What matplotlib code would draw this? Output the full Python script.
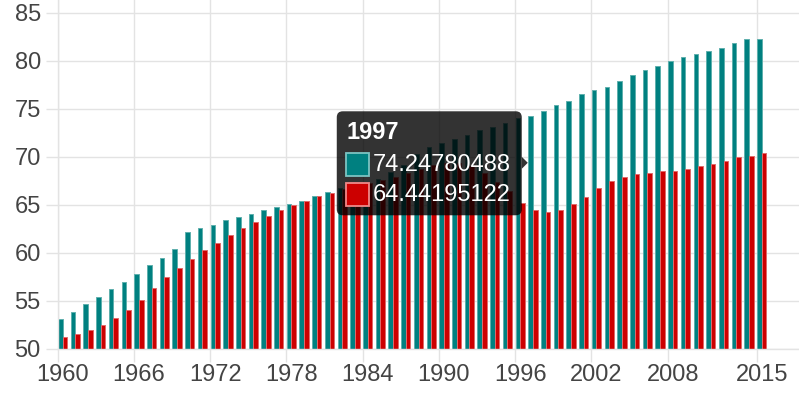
import matplotlib
matplotlib.use("Agg")
import matplotlib.pyplot as plt
from matplotlib.patches import FancyBboxPatch, Rectangle, Polygon
from matplotlib.transforms import IdentityTransform

plt.rcParams["font.family"] = ["Liberation Sans", "DejaVu Sans"]

# --- data ---
years = list(range(1960, 2016))
teal_vals = [53.04, 53.81, 54.61, 55.37, 56.17, 56.93, 57.73, 58.67, 59.44, 60.38,
             62.11, 62.56, 62.88, 63.36, 63.68, 63.99, 64.44, 64.76, 65.07, 65.38,
             65.87, 66.32, 66.7, 67.0, 67.35, 67.7, 68.4, 69.1, 70.3, 71.0,
             71.37, 71.79, 72.24, 72.76, 73.04, 73.52, 73.97, 74.24780488, 74.72, 75.35,
             75.83, 76.46, 76.91, 77.22, 77.85, 78.47, 78.96, 79.41, 79.90, 80.35,
             80.66, 80.97, 81.28, 81.81, 82.22, 82.22]
red_vals = [51.16, 51.48, 51.93, 52.42, 53.18, 53.98, 55.06, 56.31, 57.42, 58.36,
            59.30, 60.24, 61.01, 61.80, 62.56, 63.19, 63.82, 64.44, 64.93, 65.38,
            65.87, 66.18, 66.6, 66.9, 67.2, 67.55, 67.9, 68.3, 68.7, 69.1,
            69.3, 69.3, 69.0, 68.3, 67.3, 66.4, 65.17, 64.44195122, 64.27, 64.41,
            65.03, 65.83, 66.77, 67.40, 67.85, 68.16, 68.33, 68.47, 68.47, 68.65,
            68.96, 69.27, 69.58, 69.90, 70.03, 70.35]
tick_years = [1960, 1966, 1972, 1978, 1984, 1990, 1996, 2002, 2008, 2015]
y_ticks = [50, 55, 60, 65, 70, 75, 80, 85]
hover_year = 1997

TEAL = "#008080"
RED = "#cc0000"
GRID = "#e3e3e3"
TXT = "#444444"

fig = plt.figure(figsize=(7.99, 3.99), dpi=100)
ax = fig.add_axes([57.5 / 799, 50.5 / 399, 741.5 / 799, 348.5 / 399])

bw = 0.365
ax.bar([y + 0.04 for y in years], [v - 50 for v in teal_vals], bottom=50, width=bw,
       align="edge", color=TEAL, edgecolor="#5fb0ad", linewidth=0.7, zorder=2)
ax.bar([y + 0.405 for y in years], [v - 50 for v in red_vals], bottom=50, width=bw,
       align="edge", color=RED, edgecolor="#e06a6a", linewidth=0.7, zorder=2)

ax.set_xlim(1960, 1960 + 741.5 / 12.71)
ax.set_ylim(50, 50 + 348.5 / 9.6)

ax.set_xticks(tick_years)
ax.set_xticklabels([])
ax.set_xticks([y + 0.4 for y in tick_years], minor=True)
ax.set_xticklabels([str(y) for y in tick_years], minor=True)
ax.set_yticks(y_ticks)
ax.set_yticklabels([str(v) for v in y_ticks])

ax.tick_params(axis="both", which="major", color=GRID, length=9, width=1.0,
               labelsize=17, labelcolor=TXT)
ax.tick_params(axis="y", pad=3)
ax.tick_params(axis="x", which="minor", length=0, pad=11, labelsize=17, labelcolor=TXT)
ax.grid(True, which="major", color=GRID, linewidth=1.0)
ax.set_axisbelow(True)
for side in ["top", "right"]:
    ax.spines[side].set_visible(False)
for side in ["left", "bottom"]:
    ax.spines[side].set_color(GRID)
    ax.spines[side].set_linewidth(1.0)

# --- tooltip for the hovered year ---
i = years.index(hover_year)
ax_px, ay_px = ax.transData.transform((hover_year, (teal_vals[i] + red_vals[i]) / 2))
idt = IdentityTransform()
box = FancyBboxPatch((ax_px - 191, ay_px - 52.5), 185, 104,
                     boxstyle="round,pad=0,rounding_size=6", transform=idt,
                     facecolor=(0, 0, 0, 0.8), edgecolor="none", zorder=5)
fig.patches.append(box)
caret = Polygon([[ax_px, ay_px], [ax_px - 6, ay_px + 6], [ax_px - 6, ay_px - 6]],
                closed=True, transform=idt, facecolor=(0, 0, 0, 0.8),
                edgecolor="none", zorder=5)
fig.patches.append(caret)
fig.text(ax_px - 181, ay_px + 30, str(hover_year), transform=idt, color="white",
         fontsize=17, fontweight="bold", va="center", ha="left", zorder=6)
rows = [(teal_vals[i], TEAL, "#7cc4c2", -2), (red_vals[i], RED, "#f08a8a", -32)]
for val, fc, ec, dy in rows:
    sq = Rectangle((ax_px - 182, ay_px + dy - 11.5), 23, 23, transform=idt,
                   facecolor=fc, edgecolor=ec, linewidth=1.3, zorder=6)
    fig.patches.append(sq)
    fig.text(ax_px - 155, ay_px + dy, str(val), transform=idt, color="white",
             fontsize=17, va="center", ha="left", zorder=6)

fig.savefig("out.png", dpi=100)
plt.close(fig)
